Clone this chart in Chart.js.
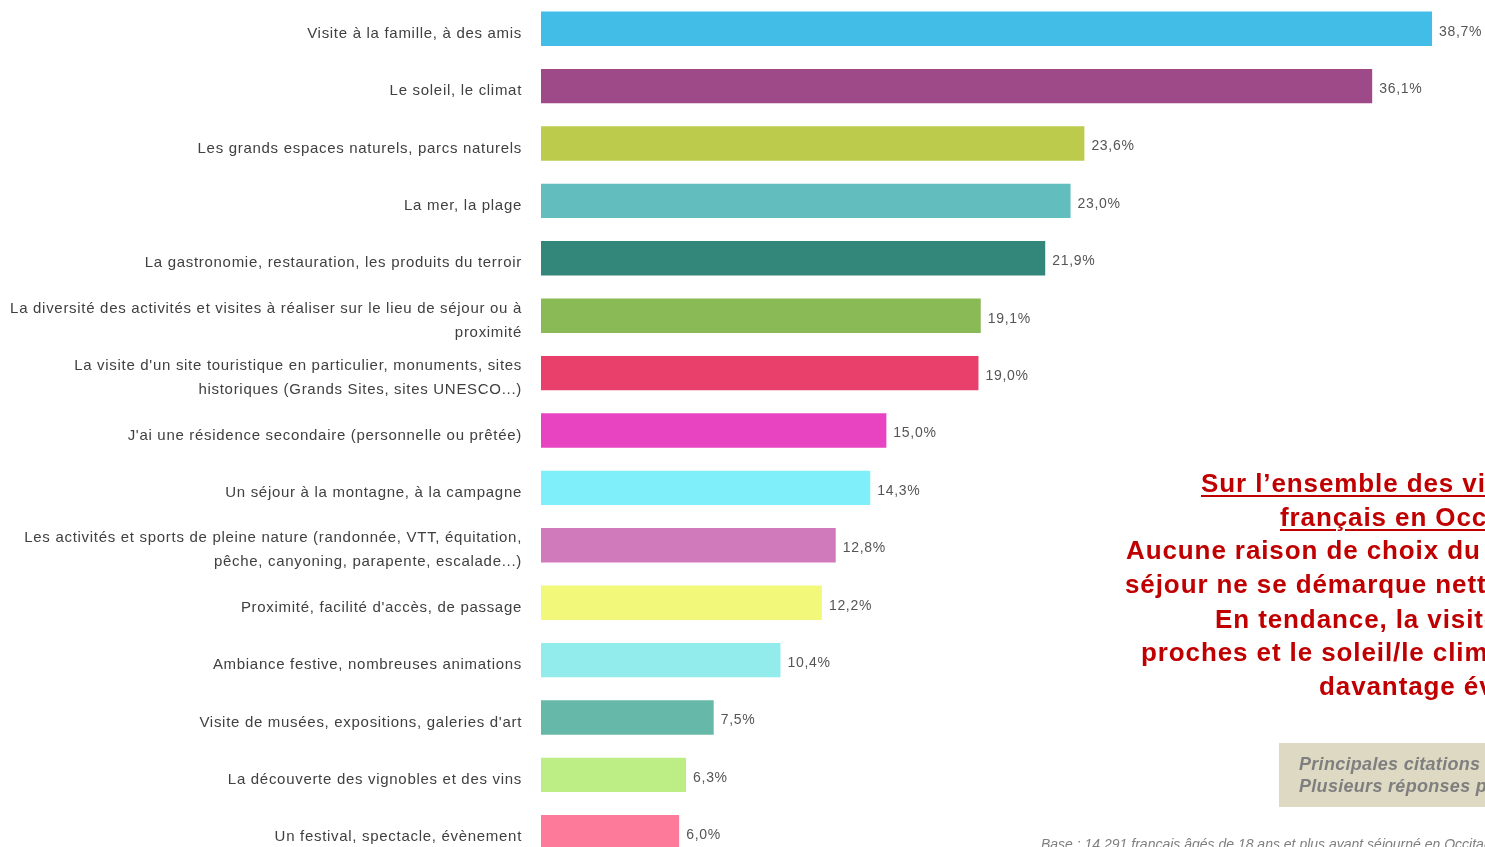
<!DOCTYPE html>
<html lang="fr">
<head>
<meta charset="UTF-8">
<title>Raisons du choix du lieu de séjour</title>
<style>
  html, body {
    margin: 0;
    padding: 0;
    width: 1485px;
    height: 847px;
    overflow: hidden;
    background: #ffffff;
    font-family: 'Liberation Sans', Arial, sans-serif;
  }
  .chart-box {
    position: absolute;
    left: 0;
    top: 0;
    width: 1485px;
    height: 861px;
  }
  .note {
    position: absolute;
    white-space: nowrap;
    color: #c00000;
    font-weight: bold;
    font-size: 26px;
    letter-spacing: 0.9px;
    line-height: 30px;
  }
  .note.u { text-decoration: underline; text-decoration-thickness: 2px; text-underline-offset: 3px; }
  .tag {
    position: absolute;
    left: 1279px;
    top: 743px;
    width: 260px;
    height: 64px;
    background: #ddd9c3;
  }
  .tag div {
    position: absolute;
    left: 20px;
    white-space: nowrap;
    font-style: italic;
    font-weight: bold;
    font-size: 18px;
    letter-spacing: 0.3px;
    color: #7f7f7f;
  }
  .base {
    position: absolute;
    left: 1041px;
    top: 836px;
    white-space: nowrap;
    font-style: italic;
    font-size: 14px;
    color: #7f7f7f;
  }
</style>
<script src="https://cdn.jsdelivr.net/npm/chart.js"></script>
</head>
<body>
<div class="chart-box"><canvas id="raisons"></canvas></div>

<div class="note u" style="left:1201px;top:468px">Sur l’ensemble des visiteurs</div>
<div class="note u" style="left:1280px;top:502px">français en Occitanie :</div>
<div class="note" style="left:1126px;top:535px">Aucune raison de choix du lieu de</div>
<div class="note" style="left:1125px;top:569px">séjour ne se démarque nettement.</div>
<div class="note" style="left:1215px;top:604px">En tendance, la visite aux</div>
<div class="note" style="left:1141px;top:637px">proches et le soleil/le climat sont</div>
<div class="note" style="left:1319px;top:671px">davantage évoqués.</div>

<div class="tag">
  <div style="top:11px">Principales citations</div>
  <div style="top:33px">Plusieurs réponses possibles</div>
</div>
<div class="base">Base : 14 291 français âgés de 18 ans et plus ayant séjourné en Occitanie</div>

<script>
// Raisons citées, en % des répondants
const raisons = [
  'Visite à la famille, à des amis',
  'Le soleil, le climat',
  'Les grands espaces naturels, parcs naturels',
  'La mer, la plage',
  'La gastronomie, restauration, les produits du terroir',
  ['La diversité des activités et visites à réaliser sur le lieu de séjour ou à', 'proximité'],
  ['La visite d\'un site touristique en particulier, monuments, sites', 'historiques (Grands Sites, sites UNESCO...)'],
  'J\'ai une résidence secondaire (personnelle ou prêtée)',
  'Un séjour à la montagne, à la campagne',
  ['Les activités et sports de pleine nature (randonnée, VTT, équitation,', 'pêche, canyoning, parapente, escalade...)'],
  'Proximité, facilité d\'accès, de passage',
  'Ambiance festive, nombreuses animations',
  'Visite de musées, expositions, galeries d\'art',
  'La découverte des vignobles et des vins',
  'Un festival, spectacle, évènement'
];

const pourcentages = [38.7, 36.1, 23.6, 23.0, 21.9, 19.1, 19.0, 15.0, 14.3, 12.8, 12.2, 10.4, 7.5, 6.3, 6.0];

const couleurs = [
  '#41bde8', '#9e4a88', '#bccb4c', '#62bdbf', '#33877a',
  '#8aba56', '#e8406a', '#e843c0', '#7ff0fa', '#d079bb',
  '#f2f97a', '#93ecec', '#66b8a8', '#bdee86', '#fd7a9a'
];

// texte un peu espacé, comme l'export d'origine
const espacement = {
  id: 'espacement',
  beforeUpdate(chart) { chart.ctx.letterSpacing = '0.7px'; }
};

// étiquette de valeur à droite de chaque barre
const valeurPlugin = {
  id: 'valeurs',
  afterDatasetsDraw(chart) {
    const ctx = chart.ctx;
    const meta = chart.getDatasetMeta(0);
    ctx.save();
    ctx.font = '14px "Liberation Sans", Arial, sans-serif';
    ctx.fillStyle = '#555555';
    ctx.textAlign = 'left';
    ctx.textBaseline = 'middle';
    meta.data.forEach((bar, i) => {
      const txt = pourcentages[i].toFixed(1).replace('.', ',') + '%';
      ctx.fillText(txt, bar.x + 7, bar.y + 3);
    });
    ctx.restore();
  }
};

new Chart(document.getElementById('raisons'), {
  type: 'bar',
  data: {
    labels: raisons,
    datasets: [{
      data: pourcentages,
      backgroundColor: couleurs,
      borderWidth: 0,
      barPercentage: 0.6,
      categoryPercentage: 1
    }]
  },
  options: {
    indexAxis: 'y',
    responsive: true,
    maintainAspectRatio: false,
    animation: false,
    layout: { padding: 0 },
    plugins: {
      legend: { display: false },
      tooltip: { enabled: false }
    },
    scales: {
      x: {
        display: false,
        min: 0,
        max: 41
      },
      y: {
        afterFit(scale) {
          scale.width = 541;
          scale.paddingTop = 0;
          scale.paddingBottom = 0;
        },
        border: { display: false },
        grid: { display: false, drawTicks: false },
        ticks: {
          padding: 19,
          labelOffset: 5,
          color: '#404040',
          font: { family: '"Liberation Sans", Arial, sans-serif', size: 15, lineHeight: 1.6 }
        }
      }
    }
  },
  plugins: [espacement, valeurPlugin]
});
</script>
</body>
</html>
